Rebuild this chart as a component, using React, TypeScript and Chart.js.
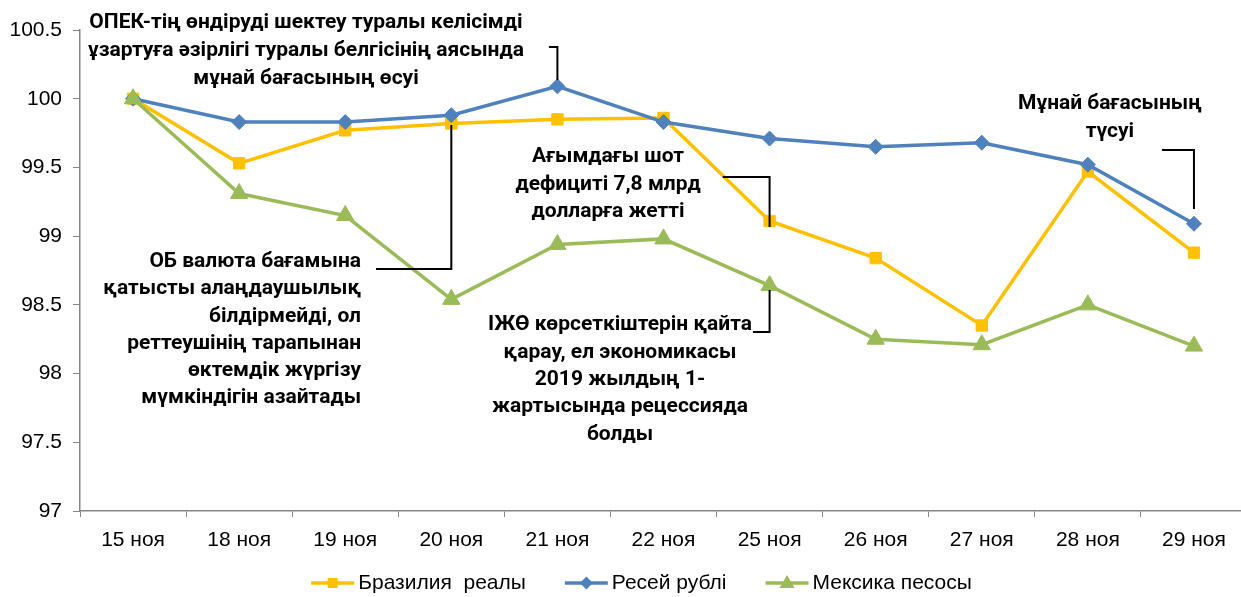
import React, { useEffect, useRef } from "react";
import { Chart, registerables } from "chart.js";

Chart.register(...registerables);

// ---- data ----
const categories = ["15 ноя", "18 ноя", "19 ноя", "20 ноя", "21 ноя", "22 ноя", "25 ноя", "26 ноя", "27 ноя", "28 ноя", "29 ноя"];
const brazilReal = [100, 99.53, 99.77, 99.82, 99.85, 99.86, 99.11, 98.84, 98.35, 99.47, 98.88];
const russiaRuble = [100, 99.83, 99.83, 99.88, 100.09, 99.83, 99.71, 99.65, 99.68, 99.52, 99.09];
const mexicoPeso = [100, 99.31, 99.15, 98.54, 98.94, 98.98, 98.64, 98.25, 98.21, 98.5, 98.2];
const seriesNames = ["Бразилия  реалы", "Ресей рублі", "Мексика песосы"];
const yTickValues = [97, 97.5, 98, 98.5, 99, 99.5, 100, 100.5];
const yTickLabels = ["97", "97.5", "98", "98.5", "99", "99.5", "100", "100.5"];

// annotation texts
const noteOpec = ["ОПЕК-тің өндіруді шектеу туралы келісімді", "ұзартуға әзірлігі туралы белгісінің аясында", "мұнай бағасының өсуі"];
const noteUs = ["ОБ валюта бағамына", "қатысты алаңдаушылық", "білдірмейді, ол", "реттеушінің тарапынан", "өктемдік жүргізу", "мүмкіндігін азайтады"];
const noteDeficit = ["Ағымдағы шот", "дефициті 7,8 млрд", "долларға жетті"];
const noteGdp = ["ІЖӨ көрсеткіштерін қайта", "қарау, ел экономикасы", "2019 жылдың 1-", "жартысында рецессияда", "болды"];
const noteOil = ["Мұнай бағасының", "түсуі"];

// ---- styles / placement (in axis units: category index, value) ----
const COLORS = ["#FFC000", "#4F81BD", "#9BBB59"];
const POINT_STYLES = ["rect", "rectRot", "triangle"];
const POINT_RADII = [8, 7.5, 10];
const TICK_FONT = '"Liberation Sans", Arial, sans-serif';
const NOTE_FONT = 'Roboto, "Noto Sans", sans-serif';
const CANVAS_W = 1258;

const notes = [
  { lines: noteOpec, align: "center", at: [1.63, 100.55], lh: 28, path: [[3.92, 100.376], [4, 100.376], [4, 100.136]] },
  { lines: noteUs, align: "right", at: [2.149, 98.812], lh: 27.2, path: [[2.29, 98.761], [3, 98.761], [3, 99.809]] },
  { lines: noteDeficit, align: "center", at: [4.477, 99.576], lh: 27.5, path: [[5.558, 99.43], [6, 99.43], [6, 99.066]] },
  { lines: noteGdp, align: "center", at: [4.59, 98.353], lh: 27.3, path: [[5.843, 98.303], [6, 98.303], [6, 98.608]] },
  { lines: noteOil, align: "center", at: [9.208, 99.962], lh: 27.5, path: [[9.698, 99.627], [10, 99.627], [10, 99.198]] },
];

const notesPlugin = {
  id: "notes",
  afterDatasetsDraw(chart: any) {
    const { ctx } = chart;
    const xs = chart.scales.x;
    const ys = chart.scales.y;
    ctx.save();
    ctx.fillStyle = "#000";
    ctx.font = `bold 21px ${NOTE_FONT}`;
    ctx.textBaseline = "middle";
    for (const n of notes) {
      const x = xs.getPixelForValue(n.at[0]);
      const y0 = ys.getPixelForValue(n.at[1]);
      ctx.textAlign = n.align;
      n.lines.forEach((t: string, k: number) => ctx.fillText(t, x, y0 + k * n.lh));
      ctx.beginPath();
      ctx.strokeStyle = "#000";
      ctx.lineWidth = 2;
      n.path.forEach((p: number[], k: number) => {
        const px = xs.getPixelForValue(p[0]);
        const py = ys.getPixelForValue(p[1]);
        if (k === 0) ctx.moveTo(px, py);
        else ctx.lineTo(px, py);
      });
      ctx.stroke();
    }
    ctx.restore();
  },
};

const legendPlugin = {
  id: "customLegend",
  afterDraw(chart: any) {
    const { ctx } = chart;
    ctx.save();
    ctx.font = `21px ${TICK_FONT}`;
    const lineLen = 43;
    const gapText = 4;
    const gapItem = 39;
    const widths = seriesNames.map((s) => ctx.measureText(s).width);
    const total = widths.reduce((a, w) => a + lineLen + gapText + w, 0) + gapItem * (seriesNames.length - 1);
    let x = 641.5 - total / 2;
    const y = 583;
    seriesNames.forEach((name, i) => {
      ctx.strokeStyle = COLORS[i];
      ctx.lineWidth = 3.5;
      ctx.beginPath();
      ctx.moveTo(x, y);
      ctx.lineTo(x + lineLen, y);
      ctx.stroke();
      ctx.fillStyle = COLORS[i];
      const cx = x + lineLen / 2;
      const s = POINT_STYLES[i];
      ctx.beginPath();
      if (s === "rect") {
        ctx.rect(cx - 5, y - 5, 10, 10);
      } else if (s === "rectRot") {
        ctx.moveTo(cx, y - 6.5); ctx.lineTo(cx + 6.5, y); ctx.lineTo(cx, y + 6.5); ctx.lineTo(cx - 6.5, y);
      } else {
        ctx.moveTo(cx, y - 8); ctx.lineTo(cx + 7.5, y + 5); ctx.lineTo(cx - 7.5, y + 5);
      }
      ctx.closePath();
      ctx.fill();
      ctx.fillStyle = "#000";
      ctx.textAlign = "left";
      ctx.textBaseline = "middle";
      ctx.fillText(name, x + lineLen + gapText, y);
      x += lineLen + gapText + widths[i] + gapItem;
    });
    ctx.restore();
  },
};

export default function App() {
  const ref = useRef<HTMLCanvasElement | null>(null);
  useEffect(() => {
    document.body.style.margin = "0";
    document.body.style.overflow = "hidden";
    const series = [brazilReal, russiaRuble, mexicoPeso];
    const orders = [2, 1, 0];
    const chart = new Chart(ref.current as HTMLCanvasElement, {
      type: "line",
      data: {
        labels: categories,
        datasets: series.map((d, i) => ({
          label: seriesNames[i],
          data: d,
          borderColor: COLORS[i],
          backgroundColor: COLORS[i],
          pointBackgroundColor: COLORS[i],
          pointBorderColor: COLORS[i],
          borderWidth: 3.5,
          pointBorderWidth: 1,
          pointStyle: POINT_STYLES[i] as any,
          pointRadius: POINT_RADII[i],
          tension: 0,
          order: orders[i],
        })),
      },
      options: {
        responsive: false,
        animation: false,
        devicePixelRatio: 1,
        layout: { padding: { top: 30, right: 1, left: 0, bottom: 26 } },
        plugins: { legend: { display: false }, tooltip: { enabled: false } },
        scales: {
          x: {
            type: "category",
            offset: true,
            grid: { offset: true, drawOnChartArea: false, drawTicks: true, tickLength: 6, color: "#868686" },
            border: { color: "#868686", width: 1.5 },
            ticks: { font: { family: TICK_FONT, size: 21 }, color: "#000", padding: 11, maxRotation: 0, autoSkip: false },
            afterFit: (s: any) => { s.height = 60; },
          },
          y: {
            min: 97,
            max: 100.5,
            afterBuildTicks: (s: any) => { s.ticks = yTickValues.map((v) => ({ value: v })); },
            grid: { drawOnChartArea: false, drawTicks: true, tickLength: 7, color: "#868686" },
            border: { color: "#868686", width: 1.5 },
            ticks: {
              font: { family: TICK_FONT, size: 21 },
              color: "#000",
              padding: 11,
              callback: (v: any) => {
                const k = yTickValues.indexOf(Number(v));
                return k >= 0 ? yTickLabels[k] : "";
              },
            },
            afterFit: (s: any) => { s.width = 80; },
          },
        },
      },
      plugins: [notesPlugin, legendPlugin],
    });
    return () => chart.destroy();
  }, []);
  return (
    <div style={{ position: "fixed", left: 0, top: 0, width: CANVAS_W, height: 597, background: "#fff" }}>
      <canvas ref={ref} width={CANVAS_W} height={597} style={{ display: "block" }} />
    </div>
  );
}
